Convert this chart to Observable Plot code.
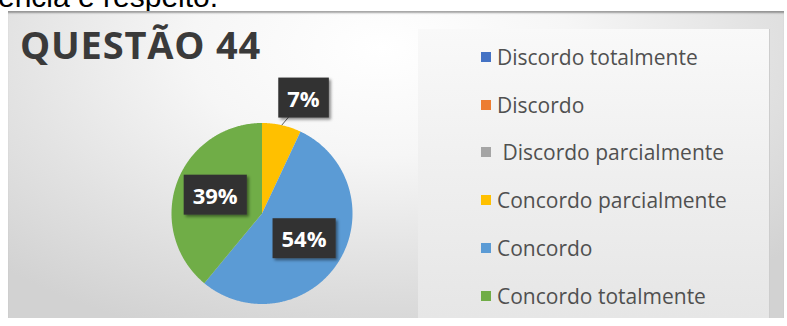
<!DOCTYPE html>
<html><head><meta charset="utf-8">
<script src="https://cdn.jsdelivr.net/npm/d3@7"></script>
<script src="https://cdn.jsdelivr.net/npm/@observablehq/plot@0.6"></script>
<style>
html,body{margin:0;padding:0;background:#fff;}
#wrap{position:relative;width:787px;height:326px;overflow:hidden;}
#toptext{position:absolute;left:-2px;top:-18px;font:30px "Liberation Sans",Arial,sans-serif;line-height:1;color:#000;white-space:nowrap;z-index:0;}
#box{position:absolute;left:8px;top:11px;width:776px;height:307px;z-index:1;
 background:radial-gradient(ellipse 70% 100% at 48% 12%, #ffffff 0%, #f6f6f6 35%, #e2e2e2 70%, #d2d2d2 100%);
 box-shadow: inset 0 3px 2px -1px rgba(0,0,0,0.35);}
#panel{position:absolute;left:418px;top:29px;width:351px;height:289px;z-index:2;
 background:linear-gradient(to bottom,#f9f9f9 0%,#efefef 50%,#e6e6e6 100%);border-right:1px solid #cdcdcd;}
#title{position:absolute;left:20px;top:25px;font:bold 38px "Open Sans",sans-serif;letter-spacing:0.8px;line-height:1;color:#3a3a3a;z-index:3;white-space:nowrap;}
#chart{position:absolute;left:0;top:0;z-index:4;}
#legend{position:absolute;left:481px;top:33px;z-index:5;}
#legend .lg-swatches{font-family:"Open Sans",sans-serif;font-size:21px;color:#505050;margin:0;}
#legend .lg-swatch{height:47.8px;padding-bottom:0;}
#legend .lg-swatch > svg{margin-right:6px;}
#legend .lg-swatch-label{white-space:pre;overflow:visible;}
</style>
</head><body>
<div id="wrap">
  <div id="toptext"></div>
  <div id="box"></div>
  <div id="panel"></div>
  <div id="title"></div>
  <div id="chart"></div>
  <div id="legend"></div>
</div>
<script>
// ---- data ----
const topText = "ência e respeito.";
const title = "QUESTÃO 44";
const categories = ["Discordo totalmente","Discordo","Discordo parcialmente","Concordo parcialmente","Concordo","Concordo totalmente"];
const legendLabels = ["Discordo totalmente","Discordo"," Discordo parcialmente","Concordo parcialmente","Concordo","Concordo totalmente"];
const values = [0, 0, 0, 7, 54, 39];
const colors = ["#4472c4","#ed7d31","#a5a5a5","#ffc000","#5b9bd5","#70ad47"];

// ---- layout ----
const W = 787, H = 326, CX = 261.5, CY = 213, R = 90.5;

document.getElementById("toptext").textContent = topText;
document.getElementById("title").textContent = title;

const arcs = d3.pie().sort(null).startAngle(0).endAngle(2 * Math.PI)(values);
const slicePts = [];
arcs.forEach((a, i) => {
  const span = a.endAngle - a.startAngle;
  if (span <= 0) return;
  const n = Math.max(2, Math.ceil(span / (Math.PI / 360)));
  slicePts.push({cat: categories[i], x: 0, y: 0});
  for (let k = 0; k <= n; k++) {
    const t = a.startAngle + span * k / n;
    slicePts.push({cat: categories[i], x: Math.sin(t), y: -Math.cos(t)});
  }
});

const labels = arcs.map((a, i) => {
  const mid = (a.startAngle + a.endAngle) / 2;
  const outside = values[i] < 10;
  const r = outside ? 1.34 : 0.55;
  const ang = outside ? mid + 7.4 * Math.PI / 180 : mid;
  return {
    cat: categories[i], v: values[i], outside,
    txt: values[i] + "%",
    lx: r * Math.sin(ang), ly: -r * Math.cos(ang),
    ex: Math.sin(mid), ey: -Math.cos(mid)
  };
}).filter(d => d.v > 0);

const chart = Plot.plot({
  width: W, height: H, margin: 0,
  style: {background: "transparent", overflow: "visible"},
  x: {domain: [-CX / R, (W - CX) / R], range: [0, W], axis: null},
  y: {domain: [-CY / R, (H - CY) / R], range: [0, H], axis: null},
  color: {domain: categories, range: colors},
  marks: [
    Plot.line(slicePts, {x: "x", y: "y", z: "cat", fill: "cat", stroke: "none", curve: "linear"}),
    Plot.link(labels.filter(d => d.outside), {x1: "ex", y1: "ey", x2: "lx", y2: "ly", stroke: "#5a5a5a", strokeWidth: 1}),
    Plot.text(labels, {x: "lx", y: "ly", text: "txt", fill: "#ffffff", fontSize: 22, fontWeight: "bold", fontFamily: "Open Sans", className: "pct"})
  ]
});
document.getElementById("chart").append(chart);

// label boxes behind the percentage texts
const svg = d3.select(chart);
const defs = svg.insert("defs", ":first-child");
const f = defs.append("filter").attr("id", "shadow").attr("x", "-30%").attr("y", "-30%").attr("width", "160%").attr("height", "160%");
f.append("feDropShadow").attr("dx", 2).attr("dy", 2).attr("stdDeviation", 1.5).attr("flood-color", "#000").attr("flood-opacity", 0.45);
svg.selectAll("g.pct text").each(function() {
  const b = this.getBBox();
  const padX = 9, padY = 5;
  d3.select(this.parentNode).insert("rect", () => this)
    .attr("x", b.x - padX).attr("y", b.y - padY)
    .attr("width", b.width + 2 * padX).attr("height", b.height + 2 * padY)
    .attr("transform", this.getAttribute("transform"))
    .attr("fill", "#333333").attr("filter", "url(#shadow)");
});

const legend = Plot.legend({
  color: {domain: legendLabels, range: colors},
  legend: "swatches", columns: 1, swatchSize: 10, className: "lg"
});
document.getElementById("legend").append(legend);
</script>
</body></html>
